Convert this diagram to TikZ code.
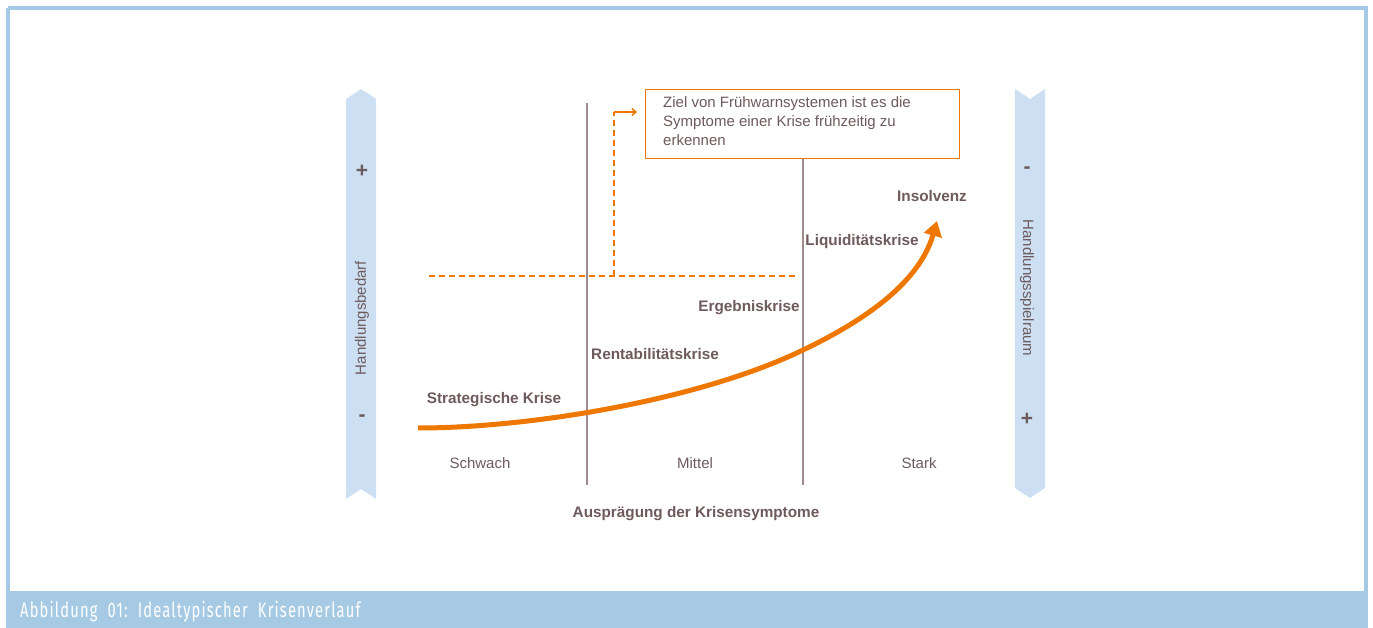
\documentclass[tikz,border=0pt]{standalone}
\usepackage{fontspec}
\usepackage{graphicx}
\setmainfont{Liberation Sans}
\newfontfamily\capfont[LetterSpace=8]{Fira Sans}
\usetikzlibrary{arrows.meta}
\definecolor{txt}{HTML}{6E5A5C}
\definecolor{org}{HTML}{EE7700}
\definecolor{barblue}{HTML}{CCDFF3}
\definecolor{frameblue}{HTML}{A7CAE4}
\definecolor{vline}{HTML}{9C8C8E}
\tikzset{
  lbl/.style={text=txt,font=\fontsize{15.3}{17}\selectfont\bfseries,inner sep=0pt},
  axl/.style={text=txt,font=\fontsize{15}{17}\selectfont,inner sep=0pt},
  sign/.style={text=txt,font=\fontsize{21}{21}\selectfont\bfseries,inner sep=0pt},
  sep/.style={draw=vline,line width=1.2pt},
  dashline/.style={draw=org,line width=1.5pt,dash pattern=on 6pt off 4pt},
}
\begin{document}
\begin{tikzpicture}[x=1pt,y=-1pt]
\useasboundingbox (0,0) rectangle (1373,628);
% frame
\draw[frameblue,line width=4pt] (8,8) -- (1366,8) -- (1366,592) (8,8) -- (8,592);
\fill[frameblue] (6,591) rectangle (1368,628);
\node[anchor=west,text=white,inner sep=0pt,font=\capfont\fontsize{21}{22}\selectfont] (cap) at (20,612)
  {\scalebox{0.7}[1]{Abbildung\ \ 01:\ \ Idealtypischer\ \ Krisenverlauf}};
% left bar
\fill[barblue] (346,99) -- (361,89) -- (376,99) -- (376,499) -- (361,489) -- (346,499) -- cycle;
\node[sign] (lplus) at (362,171) {+};
\node[sign] (lminus) at (362,418) {-};
\node[axl,rotate=90] (hb) at (362,318) {Handlungsbedarf};
% right bar
\fill[barblue] (1015,89) -- (1030,99) -- (1045,89) -- (1045,488) -- (1030,498) -- (1015,488) -- cycle;
\node[sign] (rminus) at (1027,170) {-};
\node[sign] (rplus) at (1027,419) {+};
\node[axl,rotate=-90] (hs) at (1027,288) {Handlungsspielraum};
% separators
\coordinate (s1t) at (587,103); \coordinate (s1b) at (587,485);
\coordinate (s2t) at (803,158); \coordinate (s2b) at (803,485);
\draw[sep] (s1t) -- (s1b);
\draw[sep] (s2t) -- (s2b);
% box
\node[draw=org,line width=1pt,fill=white,minimum width=314pt,minimum height=69pt,anchor=north west,inner sep=0pt] (box) at (645,89) {};
\node[axl,anchor=north west,align=left,font=\fontsize{15}{19}\selectfont] (boxt) at (663,96)
  {Ziel von Frühwarnsystemen ist es die\\Symptome einer Krise frühzeitig zu\\erkennen};
% dashed
\coordinate (d1) at (429,276); \coordinate (d2) at (797,276);
\coordinate (d3) at (614,276); \coordinate (d4) at (614,112); \coordinate (d5) at (637,112);
\draw[dashline] (d1) -- (d2);
\draw[dashline] (d3) -- (d4);
\draw[org,line width=1.5pt,-{Straight Barb[length=4pt,width=7pt]}] (d4) -- (d5);
% curve
\coordinate (c0) at (418,428); \coordinate (c1) at (803,350); \coordinate (c2) at (937,221);
\draw[org,line width=5pt,-{Triangle[length=15pt,width=18pt]}] (c0) .. controls (530,428) and (700,400) .. (c1) .. controls (870,318) and (920,280) .. (c2);
% labels
\node[lbl] (l1) at (494,400) {Strategische Krise};
\node[lbl] (l2) at (655,354) {Rentabilitätskrise};
\node[lbl] (l3) at (749,308) {Ergebniskrise};
\node[lbl] (l4) at (862,242) {Liquiditätskrise};
\node[lbl] (l5) at (932,196) {Insolvenz};
\node[axl] (a1) at (480,463) {Schwach};
\node[axl] (a2) at (695,463) {Mittel};
\node[axl] (a3) at (919,463) {Stark};
\node[lbl] (ax) at (696,514) {Ausprägung der Krisensymptome};
\end{tikzpicture}
\end{document}
